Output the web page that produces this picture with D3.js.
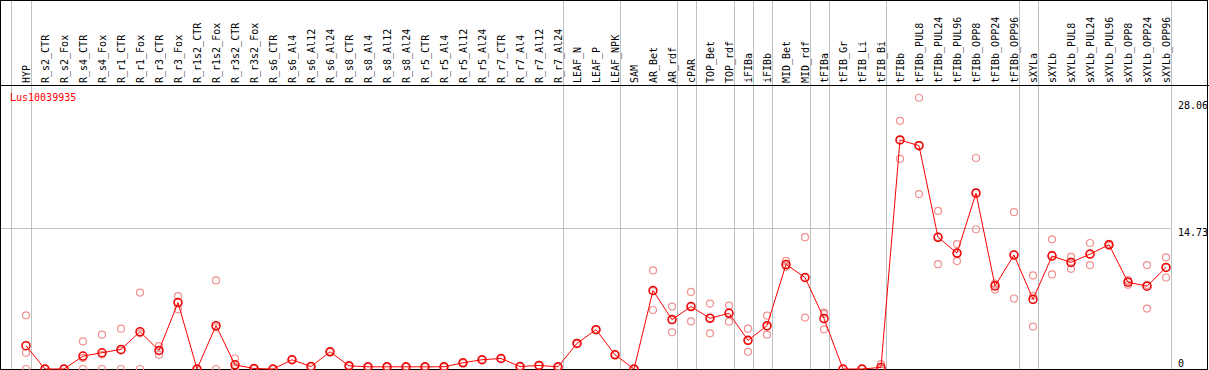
<!DOCTYPE html>
<html>
<head>
<meta charset="utf-8">
<script src="https://cdn.jsdelivr.net/npm/d3@7"></script>
<style>
  body { margin: 0; background: #fff; }
  svg { display: block; }
  text { font-family: "DejaVu Sans Mono", monospace; font-size: 10px; }
</style>
</head>
<body>
<div id="chart"></div>
<script>
// sample names (x categories)
const samples = ["HYP","R_s2_CTR","R_s2_Fox","R_s4_CTR","R_s4_Fox","R_r1_CTR","R_r1_Fox","R_r3_CTR","R_r3_Fox",
  "R_r1s2_CTR","R_r1s2_Fox","R_r3s2_CTR","R_r3s2_Fox","R_s6_CTR","R_s6_Al4","R_s6_Al12","R_s6_Al24",
  "R_s8_CTR","R_s8_Al4","R_s8_Al12","R_s8_Al24","R_r5_CTR","R_r5_Al4","R_r5_Al12","R_r5_Al24",
  "R_r7_CTR","R_r7_Al4","R_r7_Al12","R_r7_Al24","LEAF_N","LEAF_P","LEAF_NPK","SAM","AR_Bet","AR_rdf",
  "cPAR","TOP_Bet","TOP_rdf","iFIBa","iFIBb","MID_Bet","MID_rdf","tFIBa","tFIB_Gr","tFIB_Li","tFIB_Bi",
  "tFIBb","tFIBb_PUL8","tFIBb_PUL24","tFIBb_PUL96","tFIBb_OPP8","tFIBb_OPP24","tFIBb_OPP96",
  "sXYLa","sXYLb","sXYLb_PUL8","sXYLb_PUL24","sXYLb_PUL96","sXYLb_OPP8","sXYLb_OPP24","sXYLb_OPP96"];

// group separators: index of last sample in each group
const groupEnds = [0, 28, 31, 34, 35, 37, 38, 39, 41, 42, 45, 52, 53, 60];

const geneName = "Lus10039935";

// mean expression
const meanVals = [2.44,0,0,1.35,1.70,2.05,3.91,1.94,6.96,
  0,4.54,0.44,0.05,0,0.97,0.26,1.80,
  0.33,0.23,0.23,0.23,0.23,0.23,0.65,0.97,
  1.10,0.26,0.37,0.23,2.68,4.12,1.49,0,8.22,5.17,
  6.54,5.31,5.83,3.00,4.54,10.95,9.58,5.28,0,0,0.17,
  23.98,23.38,13.79,12.14,18.41,8.70,11.93,
  7.30,11.82,11.16,12.03,13.01,9.09,8.67,10.64];

// replicates
const rep1 = [5.62,0,0,2.89,3.59,4.22,8.00,2.40,7.62,
  0,9.27,1.10,0.10,0,0.97,0.26,1.80,
  0.33,0.23,0.23,0.23,0.23,0.23,0.65,0.97,
  1.10,0.26,0.37,0.23,2.68,4.12,1.49,0,10.32,6.54,
  8.07,6.85,6.64,4.22,5.59,11.33,13.80,5.91,0,0,0.50,
  25.98,28.40,16.55,13.08,22.09,8.95,16.42,
  9.80,13.58,11.75,13.19,13.10,9.30,10.88,11.69];
const rep2 = [1.70,0,0,1.16,1.51,1.93,3.73,1.93,7.00,
  0,4.35,0.22,0.05,0,0.97,0.26,1.80,
  0.33,0.23,0.23,0.23,0.23,0.23,0.65,0.97,
  1.10,0.26,0.37,0.23,2.68,4.12,1.49,0,8.16,5.13,
  6.56,5.35,5.89,2.98,4.44,10.82,9.56,5.78,0,0,0,
  23.97,23.43,13.84,12.04,18.51,8.83,11.99,
  7.66,11.98,11.24,12.02,13.01,9.16,8.80,10.65];
const rep3 = [0,0,0,0,0,0,0,1.49,6.25,
  0,0,0,0,0,0.97,0.26,1.80,
  0.33,0.23,0.23,0.23,0.23,0.23,0.65,0.97,
  1.10,0.26,0.37,0.23,2.68,4.12,1.49,0,6.18,3.84,
  4.99,3.73,4.96,1.80,3.59,10.70,5.38,4.15,0,0,0,
  21.99,18.31,10.98,11.30,14.63,8.32,7.38,
  4.44,9.90,10.49,10.88,12.92,8.81,6.33,9.58];

const yTicks = [28.06, 14.73, 0];

const W = 1209, H = 370;
const headerY = 85, plotBottom = 369, plotRight = 1170.5;

const svg = d3.select("#chart").append("svg")
  .attr("width", W).attr("height", H);

// x: one 19px column per sample, point sits near column's right edge
const x = d3.scalePoint()
  .domain(samples)
  .range([26, 26 + 19 * (samples.length - 1)]);

const y = d3.scaleLinear()
  .domain([0, 28.06])
  .range([plotBottom, 101]);

// horizontal grid at middle tick
svg.append("line")
  .attr("x1", 0).attr("x2", plotRight)
  .attr("y1", Math.round(y(14.73)) + 0.5).attr("y2", Math.round(y(14.73)) + 0.5)
  .attr("stroke", "#c0c0c0");

// vertical group separators, full height
let sepX = [x(samples[0]) - 15.5].concat(groupEnds.map(i => x(samples[i]) + 4.5));
svg.append("g").selectAll("line")
  .data(sepX)
  .enter().append("line")
    .attr("x1", d => Math.round(d) + 0.5).attr("x2", d => Math.round(d) + 0.5)
    .attr("y1", 0).attr("y2", plotBottom)
    .attr("stroke", "#c0c0c0");

// header separator
svg.append("line")
  .attr("x1", 0).attr("x2", W)
  .attr("y1", headerY + 0.5).attr("y2", headerY + 0.5)
  .attr("stroke", "#000");

// frame
svg.append("rect")
  .attr("x", 0.5).attr("y", 0.5)
  .attr("width", 1207).attr("height", plotBottom)
  .attr("fill", "none").attr("stroke", "#000");

// rotated sample labels
svg.append("g").selectAll("text")
  .data(samples)
  .enter().append("text")
    .attr("transform", d => "translate(" + (x(d) + 3.5) + "," + (headerY - 2) + ") rotate(-90)")
    .attr("fill", "#000")
    .text(d => d);

// gene name
svg.append("text")
  .attr("x", 10).attr("y", 101)
  .attr("fill", "#ff0000")
  .text(geneName);

// right side value labels
svg.append("g").selectAll("text")
  .data(yTicks)
  .enter().append("text")
    .attr("x", 1178)
    .attr("y", d => d === 0 ? plotBottom - 2 : y(d) + 8)
    .attr("fill", "#000")
    .text(d => d === 0 ? "0" : d.toFixed(2));

// replicate circles
const reps = [rep1, rep2, rep3];
reps.forEach(function(r){
  svg.append("g").selectAll("circle")
    .data(r)
    .enter().append("circle")
      .attr("cx", (d, i) => x(samples[i]))
      .attr("cy", d => y(d))
      .attr("r", 3.5)
      .attr("fill", "none")
      .attr("stroke", "#f09090")
      .attr("stroke-width", 1.2);
});

// mean line
const line = d3.line()
  .x((d, i) => x(samples[i]))
  .y(d => y(d));
svg.append("path")
  .datum(meanVals)
  .attr("d", line)
  .attr("fill", "none")
  .attr("stroke", "#ff0000")
  .attr("stroke-width", 1);

svg.append("g").selectAll("circle")
  .data(meanVals)
  .enter().append("circle")
    .attr("cx", (d, i) => x(samples[i]))
    .attr("cy", d => y(d))
    .attr("r", 4)
    .attr("fill", "none")
    .attr("stroke", "#ee0000")
    .attr("stroke-width", 1.5);
</script>
</body>
</html>
